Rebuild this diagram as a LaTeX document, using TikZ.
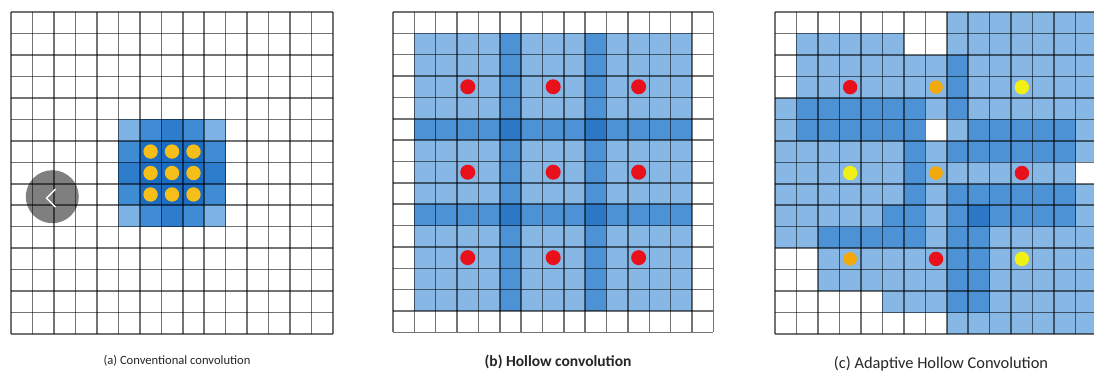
\documentclass[tikz,border=0pt]{standalone}
\usepackage{fontspec}
\setmainfont{Carlito}
\definecolor{lightb}{RGB}{135,183,228}
\definecolor{medb}{RGB}{76,146,212}
\definecolor{darkb}{RGB}{44,120,198}
\definecolor{ga}{RGB}{125,178,228}
\definecolor{gb}{RGB}{64,140,212}
\definecolor{gc}{RGB}{46,124,204}
\definecolor{gd}{RGB}{28,108,194}
\definecolor{dotyel}{RGB}{246,190,24}
\definecolor{dotred}{RGB}{232,16,26}
\definecolor{dotorg}{RGB}{242,170,10}
\definecolor{dotlem}{RGB}{240,240,20}
\tikzset{
  gridl/.style={draw=black,draw opacity=0.55,line width=1.5pt},
  captxt/.style={inner sep=0pt,text=black!85},
}
\begin{document}
\begin{tikzpicture}[x=1pt,y=-1pt]
\useasboundingbox (0,0) rectangle (1094,374);
\fill[white] (0,0) rectangle (1094,374);

% ---------- (a) conventional convolution ----------
\begin{scope}[shift={(11pt,-12pt)},x=21.47pt,y=-21.47pt]
  \fill[ga] (5,5) rectangle (10,10);
  \fill[gb] (6,5) rectangle (9,10);
  \fill[gb] (5,6) rectangle (10,9);
  \fill[gc] (7,5) rectangle (8,10);
  \fill[gc] (5,7) rectangle (10,8);
  \fill[gd] (6,6) rectangle (9,9);
  \foreach \k in {0,...,15} {
    \draw[gridl] (\k,0) -- (\k,15);
    \draw[gridl] (0,\k) -- (15,\k);
  }
  \foreach \i in {6.5,7.5,8.5} \foreach \j in {6.5,7.5,8.5}
    \fill[dotyel] (\i,\j) circle (7.2pt);
\end{scope}

% carousel button overlay
\fill[black,opacity=0.5] (52.3,196.7) circle (26.5pt);
\draw[white,line width=1.4pt] (55.5,189) -- (46.5,198.2) -- (55.5,207.2);

% ---------- (b) hollow convolution ----------
\begin{scope}[shift={(393pt,-12pt)},x=21.36pt,y=-21.36pt]
  \fill[lightb] (1,1) rectangle (14,14);
  \fill[medb] (5,1) rectangle (6,14);
  \fill[medb] (9,1) rectangle (10,14);
  \fill[medb] (1,5) rectangle (14,6);
  \fill[medb] (1,9) rectangle (14,10);
  \foreach \i in {5,9} \foreach \j in {5,9}
    \fill[darkb] (\i,\j) rectangle ++(1,1);
  \foreach \k in {0,...,15} {
    \draw[gridl] (\k,0) -- (\k,15);
    \draw[gridl] (0,\k) -- (15,\k);
  }
  \foreach \i in {3.5,7.5,11.5} \foreach \j in {3.5,7.5,11.5}
    \fill[dotred] (\i,\j) circle (7.5pt);
\end{scope}

% ---------- (c) adaptive hollow convolution ----------
\begin{scope}[shift={(775pt,-12pt)},x=21.47pt,y=-21.47pt]
  \clip (-0.5,-0.5) rectangle (14.86,15.5);
  \fill[lightb] (0,0) rectangle (15,15);
  % white cells
  \fill[white] (0,0) rectangle (8,1);
  \fill[white] (6,1) rectangle (8,2);
  \fill[white] (0,1) rectangle (1,4);
  \fill[white] (7,5) rectangle (8,6);
  \fill[white] (14,7) rectangle (15,8);
  \fill[white] (0,11) rectangle (2,13);
  \fill[white] (0,13) rectangle (5,14);
  \fill[white] (0,14) rectangle (8,15);
  % medium cells
  \fill[medb] (8,2) rectangle (9,5);
  \fill[medb] (8,6) rectangle (9,7);
  \fill[medb] (8,8) rectangle (9,14);
  \fill[medb] (1,4) rectangle (7,6);
  \fill[medb] (9,5) rectangle (14,7);
  \fill[medb] (6,6) rectangle (7,9);
  \fill[medb] (9,8) rectangle (14,10);
  \fill[medb] (5,9) rectangle (7,10);
  \fill[medb] (2,10) rectangle (7,11);
  \fill[medb] (9,10) rectangle (10,14);
  \fill[darkb] (9,9) rectangle (10,10);
  \foreach \k in {0,...,15} {
    \draw[gridl] (\k,0) -- (\k,15);
    \draw[gridl] (0,\k) -- (15,\k);
  }
  \fill[dotred] (3.5,3.5) circle (7.2pt);
  \fill[dotorg] (7.5,3.5) circle (6.8pt);
  \fill[dotlem] (11.5,3.5) circle (7.2pt);
  \fill[dotlem] (3.5,7.5) circle (7.2pt);
  \fill[dotorg] (7.5,7.5) circle (6.8pt);
  \fill[dotred] (11.5,7.5) circle (7.2pt);
  \fill[dotorg] (3.5,11.5) circle (6.8pt);
  \fill[dotred] (7.5,11.5) circle (7.2pt);
  \fill[dotlem] (11.5,11.5) circle (7.2pt);
\end{scope}

% ---------- captions ----------
\node[captxt,font=\fontsize{12.6}{14}\selectfont] (capa) at (177,361) {(a) Conventional convolution};
\node[captxt,font=\fontsize{15.5}{18}\selectfont\bfseries] (capb) at (558,362) {(b) Hollow convolution};
\node[captxt,font=\fontsize{16.4}{19}\selectfont] (capc) at (941,364) {(c) Adaptive Hollow Convolution};
\end{tikzpicture}
\end{document}
